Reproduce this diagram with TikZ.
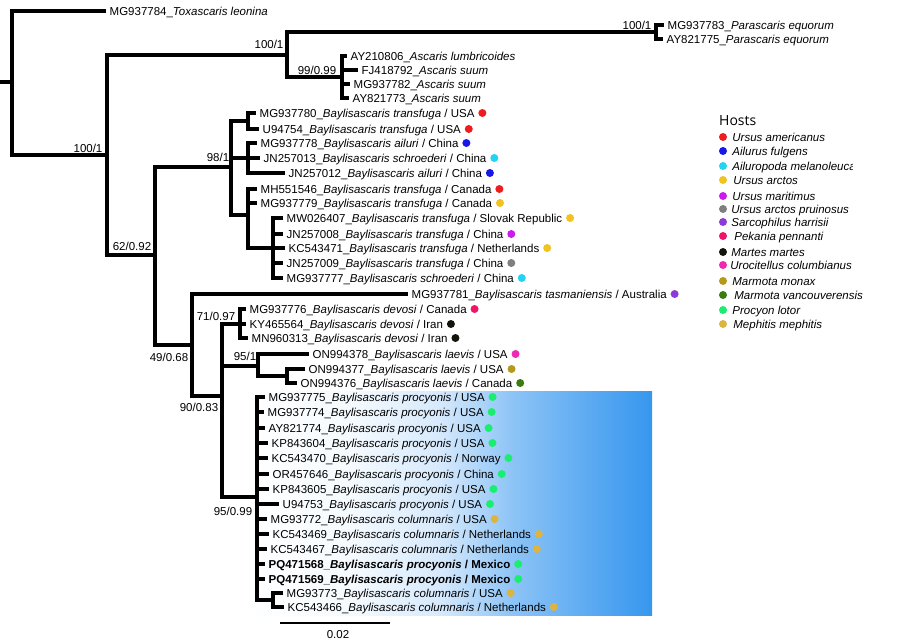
\documentclass[tikz,border=0pt]{standalone}
\usepackage{fontspec}
\setmainfont{Liberation Sans}
\newfontfamily\hostsfont{Open Sans}
\usetikzlibrary{positioning}
\definecolor{cAme}{HTML}{EE1C1C}
\definecolor{cAil}{HTML}{1717E8}
\definecolor{cMel}{HTML}{22D3F2}
\definecolor{cArc}{HTML}{F2C31F}
\definecolor{cMar}{HTML}{CC1AEE}
\definecolor{cPru}{HTML}{7F7F7F}
\definecolor{cSar}{HTML}{8A3BD9}
\definecolor{cPek}{HTML}{EE1468}
\definecolor{cMtm}{HTML}{14140A}
\definecolor{cUro}{HTML}{EE2AB2}
\definecolor{cMon}{HTML}{B39A1C}
\definecolor{cVan}{HTML}{3C7A12}
\definecolor{cPro}{HTML}{1AEE6E}
\definecolor{cMep}{HTML}{DDB43F}
\definecolor{fadeA}{HTML}{F5FAFE}
\definecolor{fadeB}{HTML}{D6E9FC}
\definecolor{fadeC}{HTML}{8BC3F6}
\definecolor{fadeD}{HTML}{5DABF2}
\definecolor{fadeE}{HTML}{3797EE}
\pgfdeclarehorizontalshading{boxfade}{100bp}{color(0bp)=(white); color(25bp)=(white); color(38bp)=(fadeA); color(49bp)=(fadeB); color(58bp)=(fadeC); color(67bp)=(fadeD); color(75bp)=(fadeE); color(100bp)=(fadeE)}
\begin{document}
\begin{tikzpicture}[x=1pt,y=-1pt,
  br/.style={line width=3.1pt},
  lab/.style={anchor=west,inner xsep=3.5pt,inner ysep=0pt,text height=8.3pt,text depth=0pt,font=\fontsize{11.5}{13}\selectfont},
  bs/.style={inner sep=0pt,text height=8.3pt,text depth=0pt,font=\fontsize{11.5}{13}\selectfont},
  hdot/.style={circle,fill=#1,inner sep=0pt,minimum size=8pt},
  leg/.style={inner sep=0pt,text height=8.3pt,text depth=0pt,font=\fontsize{11.5}{13}\selectfont\itshape}]
\useasboundingbox (0,0) rectangle (900,640);
\fill[white] (0,0) rectangle (900,640);
\shade[shading=boxfade] (245,391) rectangle (652,615);
% internal nodes
\coordinate (N0) at (0,82);
\coordinate (Nroot) at (12,82);
\coordinate (N1) at (107,155);
\coordinate (N2) at (287,55);
\coordinate (Npar) at (656,32);
\coordinate (Nasc) at (342,77);
\coordinate (N3) at (155,255);
\coordinate (Nbt) at (231,167);
\coordinate (Nb1) at (248,121);
\coordinate (Nb2) at (248,158);
\coordinate (Nb3) at (248,215);
\coordinate (Nb4) at (273,248);
\coordinate (N5) at (192,345);
\coordinate (N6) at (222,396);
\coordinate (Ndev) at (240,324);
\coordinate (Nlae) at (258,366);
\coordinate (Nlae2) at (287,376);
\coordinate (Npro) at (257,497);
\coordinate (Npro2) at (273,600);
% tips
\node[lab] (L1) at (106,11) {MG937784\_\textit{Toxascaris leonina}};
\node[lab] (L2) at (664,25) {MG937783\_\textit{Parascaris equorum}};
\node[lab] (L3) at (663,39) {AY821775\_\textit{Parascaris equorum}};
\node[lab] (L4) at (347,56) {AY210806\_\textit{Ascaris lumbricoides}};
\node[lab] (L5) at (358,70) {FJ418792\_\textit{Ascaris suum}};
\node[lab] (L6) at (350,84) {MG937782\_\textit{Ascaris suum}};
\node[lab] (L7) at (349,98) {AY821773\_\textit{Ascaris suum}};
\node[lab] (L8) at (256,113) {MG937780\_\textit{Baylisascaris transfuga} / USA};
\node[lab] (L9) at (259,129) {U94754\_\textit{Baylisascaris transfuga} / USA};
\node[lab] (L10) at (257,143) {MG937778\_\textit{Baylisascaris ailuri} / China};
\node[lab] (L11) at (260,158) {JN257013\_\textit{Baylisascaris schroederi} / China};
\node[lab] (L12) at (285,173) {JN257012\_\textit{Baylisascaris ailuri} / China};
\node[lab] (L13) at (257,189) {MH551546\_\textit{Baylisascaris transfuga} / Canada};
\node[lab] (L14) at (257,203) {MG937779\_\textit{Baylisascaris transfuga} / Canada};
\node[lab] (L15) at (283,218) {MW026407\_\textit{Baylisascaris transfuga} / Slovak Republic};
\node[lab] (L16) at (283,234) {JN257008\_\textit{Baylisascaris transfuga} / China};
\node[lab] (L17) at (285,248) {KC543471\_\textit{Baylisascaris transfuga} / Netherlands};
\node[lab] (L18) at (283,263) {JN257009\_\textit{Baylisascaris transfuga} / China};
\node[lab] (L19) at (283,278) {MG937777\_\textit{Baylisascaris schroederi} / China};
\node[lab] (L20) at (408,294) {MG937781\_\textit{Baylisascaris tasmaniensis} / Australia};
\node[lab] (L21) at (246,309) {MG937776\_\textit{Baylisascaris devosi} / Canada};
\node[lab] (L22) at (246,324) {KY465564\_\textit{Baylisascaris devosi} / Iran};
\node[lab] (L23) at (248,338) {MN960313\_\textit{Baylisascaris devosi} / Iran};
\node[lab] (L24) at (309,354) {ON994378\_\textit{Baylisascaris laevis} / USA};
\node[lab] (L25) at (305,369) {ON994377\_\textit{Baylisascaris laevis} / USA};
\node[lab] (L26) at (297,383) {ON994376\_\textit{Baylisascaris laevis} / Canada};
\node[lab] (L27) at (265,397) {MG937775\_\textit{Baylisascaris procyonis} / USA};
\node[lab] (L28) at (264,412) {MG937774\_\textit{Baylisascaris procyonis} / USA};
\node[lab] (L29) at (265,428) {AY821774\_\textit{Baylisascaris procyonis} / USA};
\node[lab] (L30) at (268,443) {KP843604\_\textit{Baylisascaris procyonis} / USA};
\node[lab] (L31) at (268,458) {KC543470\_\textit{Baylisascaris procyonis} / Norway};
\node[lab] (L32) at (269,474) {OR457646\_\textit{Baylisascaris procyonis} / China};
\node[lab] (L33) at (269,489) {KP843605\_\textit{Baylisascaris procyonis} / USA};
\node[lab] (L34) at (279,504) {U94753\_\textit{Baylisascaris procyonis} / USA};
\node[lab] (L35) at (267,519) {MG93772\_\textit{Baylisascaris columnaris} / USA};
\node[lab] (L36) at (269,534) {KC543469\_\textit{Baylisascaris columnaris} / Netherlands};
\node[lab] (L37) at (267,549) {KC543467\_\textit{Baylisascaris columnaris} / Netherlands};
\node[lab] (L38) at (265,564) {\textbf{PQ471568\_\textit{Baylisascaris procyonis} / Mexico}};
\node[lab] (L39) at (265,579) {\textbf{PQ471569\_\textit{Baylisascaris procyonis} / Mexico}};
\node[lab] (L40) at (283,593) {MG93773\_\textit{Baylisascaris columnaris} / USA};
\node[lab] (L41) at (284,607) {KC543466\_\textit{Baylisascaris columnaris} / Netherlands};
% branches
\draw[br] (N0) -- (Nroot);
\draw[br] (Nroot) |- (L1.west);
\draw[br] (Nroot) |- (N1);
\draw[br] (N1) |- (N2);
\draw[br] (N1) |- (N3);
\draw[br] (N2) |- (Npar);
\draw[br] (N2) |- (Nasc);
\draw[br] (Npar) |- (L2.west);
\draw[br] (Npar) |- (L3.west);
\draw[br] (Nasc) |- (L4.west);
\draw[br] (Nasc) |- (L5.west);
\draw[br] (Nasc) |- (L6.west);
\draw[br] (Nasc) |- (L7.west);
\draw[br] (N3) |- (Nbt);
\draw[br] (N3) |- (N5);
\draw[br] (Nbt) |- (Nb1);
\draw[br] (Nbt) |- (Nb2);
\draw[br] (Nbt) |- (Nb3);
\draw[br] (Nb1) |- (L8.west);
\draw[br] (Nb1) |- (L9.west);
\draw[br] (Nb2) |- (L10.west);
\draw[br] (Nb2) |- (L11.west);
\draw[br] (Nb2) |- (L12.west);
\draw[br] (Nb3) |- (L13.west);
\draw[br] (Nb3) |- (L14.west);
\draw[br] (Nb3) |- (Nb4);
\draw[br] (Nb4) |- (L15.west);
\draw[br] (Nb4) |- (L16.west);
\draw[br] (Nb4) |- (L17.west);
\draw[br] (Nb4) |- (L18.west);
\draw[br] (Nb4) |- (L19.west);
\draw[br] (N5) |- (L20.west);
\draw[br] (N5) |- (N6);
\draw[br] (N6) |- (Ndev);
\draw[br] (N6) |- (Nlae);
\draw[br] (N6) |- (Npro);
\draw[br] (Ndev) |- (L21.west);
\draw[br] (Ndev) |- (L22.west);
\draw[br] (Ndev) |- (L23.west);
\draw[br] (Nlae) |- (L24.west);
\draw[br] (Nlae) |- (Nlae2);
\draw[br] (Nlae2) |- (L25.west);
\draw[br] (Nlae2) |- (L26.west);
\draw[br] (Npro) |- (L27.west);
\draw[br] (Npro) |- (L28.west);
\draw[br] (Npro) |- (L29.west);
\draw[br] (Npro) |- (L30.west);
\draw[br] (Npro) |- (L31.west);
\draw[br] (Npro) |- (L32.west);
\draw[br] (Npro) |- (L33.west);
\draw[br] (Npro) |- (L34.west);
\draw[br] (Npro) |- (L35.west);
\draw[br] (Npro) |- (L36.west);
\draw[br] (Npro) |- (L37.west);
\draw[br] (Npro) |- (L38.west);
\draw[br] (Npro) |- (L39.west);
\draw[br] (Npro) |- (Npro2);
\draw[br] (Npro2) |- (L40.west);
\draw[br] (Npro2) |- (L41.west);
% support values
\node[bs] (B1) at (88,148) {100/1};
\node[bs] (B2) at (269,44) {100/1};
\node[bs] (B3) at (637,25) {100/1};
\node[bs] (B4) at (317,70) {99/0.99};
\node[bs] (B5) at (132,246) {62/0.92};
\node[bs] (B6) at (218,157) {98/1};
\node[bs] (B7) at (169,357) {49/0.68};
\node[bs] (B8) at (199,407) {90/0.83};
\node[bs] (B9) at (216,316) {71/0.97};
\node[bs] (B10) at (245,356) {95/1};
\node[bs] (B11) at (233,511) {95/0.99};
% host dots
\node[hdot=cAme, right=0pt of L8] (D8) {};
\node[hdot=cAme, right=0pt of L9] (D9) {};
\node[hdot=cAil, right=0pt of L10] (D10) {};
\node[hdot=cMel, right=0pt of L11] (D11) {};
\node[hdot=cAil, right=0pt of L12] (D12) {};
\node[hdot=cAme, right=0pt of L13] (D13) {};
\node[hdot=cArc, right=0pt of L14] (D14) {};
\node[hdot=cArc, right=0pt of L15] (D15) {};
\node[hdot=cMar, right=0pt of L16] (D16) {};
\node[hdot=cArc, right=0pt of L17] (D17) {};
\node[hdot=cPru, right=0pt of L18] (D18) {};
\node[hdot=cMel, right=0pt of L19] (D19) {};
\node[hdot=cSar, right=0pt of L20] (D20) {};
\node[hdot=cPek, right=0pt of L21] (D21) {};
\node[hdot=cMtm, right=0pt of L22] (D22) {};
\node[hdot=cMtm, right=0pt of L23] (D23) {};
\node[hdot=cUro, right=0pt of L24] (D24) {};
\node[hdot=cMon, right=0pt of L25] (D25) {};
\node[hdot=cVan, right=0pt of L26] (D26) {};
\node[hdot=cPro, right=0pt of L27] (D27) {};
\node[hdot=cPro, right=0pt of L28] (D28) {};
\node[hdot=cPro, right=0pt of L29] (D29) {};
\node[hdot=cPro, right=0pt of L30] (D30) {};
\node[hdot=cPro, right=0pt of L31] (D31) {};
\node[hdot=cPro, right=0pt of L32] (D32) {};
\node[hdot=cPro, right=0pt of L33] (D33) {};
\node[hdot=cPro, right=0pt of L34] (D34) {};
\node[hdot=cMep, right=0pt of L35] (D35) {};
\node[hdot=cMep, right=0pt of L36] (D36) {};
\node[hdot=cMep, right=0pt of L37] (D37) {};
\node[hdot=cPro, right=0pt of L38] (D38) {};
\node[hdot=cPro, right=0pt of L39] (D39) {};
\node[hdot=cMep, right=0pt of L40] (D40) {};
\node[hdot=cMep, right=0pt of L41] (D41) {};
% scale bar
\coordinate (Ns1) at (280,623);
\coordinate (Ns2) at (390,623);
\draw[line width=2.8pt] (Ns1) -- (Ns2);
\node[bs] (Sc) at (338,634) {0.02};
% legend
\node[anchor=west,inner sep=0pt,text height=10pt,text depth=0pt,font=\hostsfont\fontsize{14}{16}\selectfont] (Hosts) at (719,120) {Hosts};
\node[hdot=cAme] (Hd1) at (723,137) {};
\node[hdot=cAil] (Hd2) at (723,151) {};
\node[hdot=cMel] (Hd3) at (723,166) {};
\node[hdot=cArc] (Hd4) at (723,180) {};
\node[hdot=cMar] (Hd5) at (723,196) {};
\node[hdot=cPru] (Hd6) at (723,209) {};
\node[hdot=cSar] (Hd7) at (723,222) {};
\node[hdot=cPek] (Hd8) at (723,236) {};
\node[hdot=cMtm] (Hd9) at (723,252) {};
\node[hdot=cUro] (Hd10) at (723,265) {};
\node[hdot=cMon] (Hd11) at (723,281) {};
\node[hdot=cVan] (Hd12) at (723,295) {};
\node[hdot=cPro] (Hd13) at (723,310) {};
\node[hdot=cMep] (Hd14) at (723,324) {};
\node[leg, right=5pt of Hd1] (Ht1) {Ursus americanus};
\node[leg, right=5pt of Hd2] (Ht2) {Ailurus fulgens};
\begin{scope}
\clip (700,155) rectangle (852,178);
\node[leg, right=5pt of Hd3] (Ht3) {Ailuropoda melanoleuca};
\end{scope}
\node[leg, right=6pt of Hd4] (Ht4) {Ursus arctos};
\node[leg, right=5pt of Hd5] (Ht5) {Ursus maritimus};
\node[leg, right=4pt of Hd6] (Ht6) {Ursus arctos pruinosus};
\node[leg, right=4pt of Hd7] (Ht7) {Sarcophilus harrisii};
\node[leg, right=7pt of Hd8] (Ht8) {Pekania pennanti};
\node[leg, right=4pt of Hd9] (Ht9) {Martes martes};
\node[leg, right=3pt of Hd10] (Ht10) {Urocitellus columbianus};
\node[leg, right=5pt of Hd11] (Ht11) {Marmota monax};
\node[leg, right=7pt of Hd12] (Ht12) {Marmota vancouverensis};
\node[leg, right=5pt of Hd13] (Ht13) {Procyon lotor};
\node[leg, right=6pt of Hd14] (Ht14) {Mephitis mephitis};
\end{tikzpicture}
\end{document}
